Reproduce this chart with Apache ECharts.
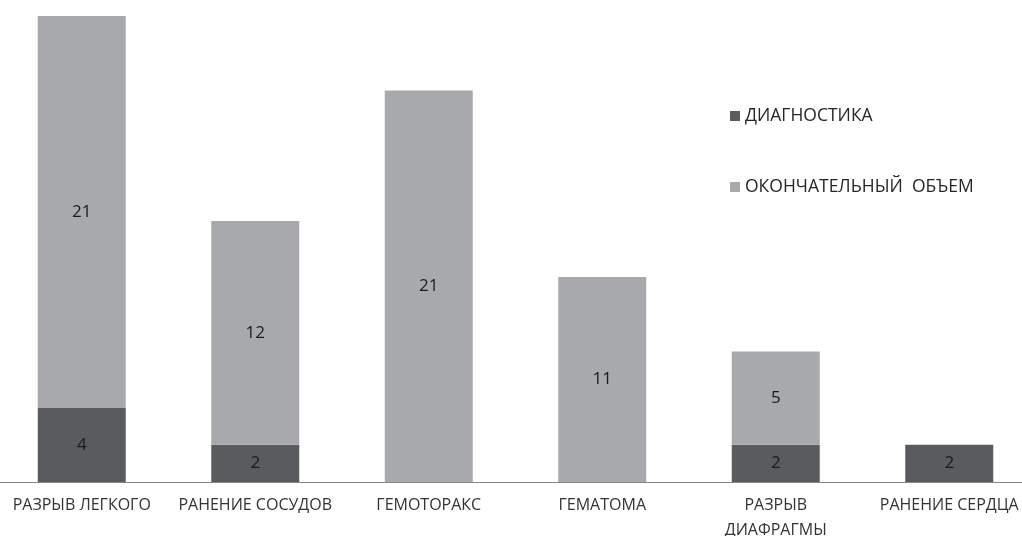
<!DOCTYPE html>
<html>
<head>
<meta charset="utf-8">
<script src="https://cdn.jsdelivr.net/npm/echarts@6/dist/echarts.min.js"></script>
<style>html,body{margin:0;padding:0;background:#fff;}#c{width:1022px;height:536px;}</style>
</head>
<body>
<div id="c"></div>
<script>
var categories = ['РАЗРЫВ ЛЕГКОГО', 'РАНЕНИЕ СОСУДОВ', 'ГЕМОТОРАКС', 'ГЕМАТОМА', 'РАЗРЫВ\nДИАФРАГМЫ', 'РАНЕНИЕ СЕРДЦА'];
var diagnostika = [4, 2, 0, 0, 2, 2];
var okonchatelny = [21, 12, 21, 11, 5, 0];
var seriesNames = ['ДИАГНОСТИКА', 'ОКОНЧАТЕЛЬНЫЙ  ОБЪЕМ'];

var font = '"Open Sans", "Liberation Sans", sans-serif';
var chart = echarts.init(document.getElementById('c'));
var lbl = {
  show: true, position: 'inside', color: '#1a1a1a', fontSize: 17, fontFamily: font,
  formatter: function (p) { return p.value ? String(p.value) : ''; }
};
chart.setOption({
  animation: false,
  grid: { left: -5, right: -14, top: 16, bottom: 54, containLabel: false, outerBoundsMode: 'none' },
  legend: {
    orient: 'vertical', left: 725, top: 102, itemGap: 53,
    itemWidth: 10, itemHeight: 10, icon: 'rect',
    textStyle: { fontFamily: font, fontSize: 17.5, color: '#262626' },
    data: seriesNames
  },
  xAxis: {
    type: 'category', data: categories,
    axisLine: { lineStyle: { color: '#868686', width: 1 } },
    axisTick: { show: false },
    axisLabel: { interval: 0, margin: 11, fontFamily: font, fontSize: 16, color: '#333333', lineHeight: 25 }
  },
  yAxis: { type: 'value', min: 0, max: 25, show: false, splitLine: { show: false } },
  series: [
    { name: seriesNames[0], type: 'bar', stack: 's', data: diagnostika, barWidth: 88,
      itemStyle: { color: '#5a5b5e' }, label: lbl },
    { name: seriesNames[1], type: 'bar', stack: 's', data: okonchatelny, barWidth: 88,
      itemStyle: { color: '#a7a9ac' }, label: lbl }
  ]
});
</script>
</body>
</html>
